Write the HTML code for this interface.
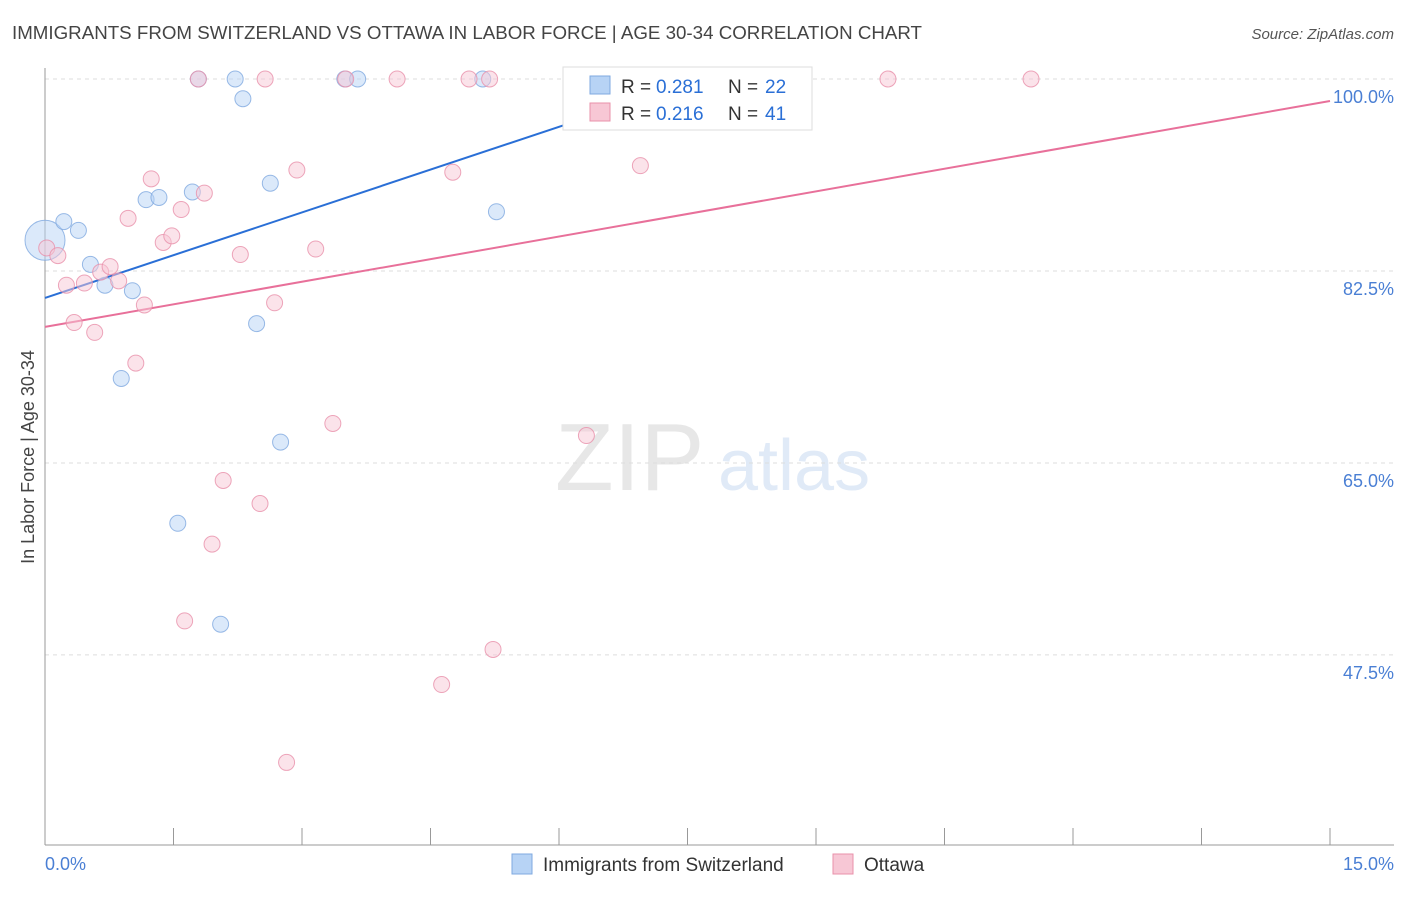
<!DOCTYPE html>
<html><head><meta charset="utf-8"><style>
body{margin:0;background:#fff;font-family:"Liberation Sans",sans-serif;}
svg text{font-family:"Liberation Sans",sans-serif;}
</style></head><body>
<svg id="chart" width="1406" height="892" xmlns="http://www.w3.org/2000/svg">
<text x="12" y="39" font-size="18" fill="#444" textLength="910" lengthAdjust="spacingAndGlyphs">IMMIGRANTS FROM SWITZERLAND VS OTTAWA IN LABOR FORCE | AGE 30-34 CORRELATION CHART</text>
<text x="1394" y="39" font-size="15" fill="#555" text-anchor="end" font-style="italic">Source: ZipAtlas.com</text>
<g opacity="0.35">
<text x="555" y="490" font-size="96" fill="#bbb" font-family="Liberation Serif">ZIP</text>
<text x="718" y="490" font-size="72" fill="#a8c4ea">atlas</text>
</g>
<g id="grid"></g>
<g id="axes"></g>
<g id="lines"></g>
<g id="points"></g>
<text transform="translate(34,457) rotate(-90)" font-size="18" fill="#444" text-anchor="middle">In Labor Force | Age 30-34</text>
<text x="45" y="870" font-size="18" fill="#4a7fd4">0.0%</text>
<text x="1394" y="870" font-size="18" fill="#4a7fd4" text-anchor="end">15.0%</text>
<g>
<rect x="563" y="67" width="249" height="63" fill="#fff" stroke="#ddd"/>
<rect x="590" y="76" width="20" height="18" fill="#b7d3f5" stroke="#7fa9e0"/>
<rect x="590" y="103" width="20" height="18" fill="#f7c7d5" stroke="#e890aa"/>
<text x="621" y="93" font-size="19" fill="#333">R =</text>
<text x="656" y="93" font-size="19" fill="#2a6fd6">0.281</text>
<text x="728" y="93" font-size="19" fill="#333">N =</text>
<text x="765" y="93" font-size="19" fill="#2a6fd6">22</text>
<text x="621" y="120" font-size="19" fill="#333">R =</text>
<text x="656" y="120" font-size="19" fill="#2a6fd6">0.216</text>
<text x="728" y="120" font-size="19" fill="#333">N =</text>
<text x="765" y="120" font-size="19" fill="#2a6fd6">41</text>
</g>
<g>
<rect x="512" y="854" width="20" height="20" fill="#b7d3f5" stroke="#7fa9e0"/>
<text x="543" y="871" font-size="19" fill="#333">Immigrants from Switzerland</text>
<rect x="833" y="854" width="20" height="20" fill="#f7c7d5" stroke="#e890aa"/>
<text x="864" y="871" font-size="19" fill="#333">Ottawa</text>
</g>
</svg>
<script>
const yTicks=[100,82.5,65,47.5];
const yTickLabels=["100.0%","82.5%","65.0%","47.5%"];
const blueX=[0,0.22,0.39,0.53,0.70,1.02,0.89,1.18,1.33,1.72,1.79,1.55,2.05,2.22,2.31,2.47,2.63,2.75,3.50,3.65,5.11,5.27];
const blueY=[85.3,87.0,86.2,83.1,81.2,80.7,72.7,89.0,89.2,89.7,100,59.5,50.3,100,98.2,77.7,90.5,66.9,100,100,100,87.9];
const pinkX=[0.02,0.15,0.25,0.34,0.46,0.58,0.65,0.76,0.86,0.97,1.06,1.16,1.24,1.38,1.48,1.59,1.63,1.79,1.86,1.95,2.08,2.28,2.51,2.57,2.68,2.82,2.94,3.16,3.36,3.51,4.11,4.63,4.76,4.95,5.19,5.23,6.32,6.95,7.14,9.84,11.51];
const pinkY=[84.6,83.9,81.2,77.8,81.4,76.9,82.4,82.9,81.6,87.3,74.1,79.4,90.9,85.1,85.7,88.1,50.6,100,89.6,57.6,63.4,84.0,61.3,100,79.6,37.7,91.7,84.5,68.6,100,100,44.8,91.5,100,100,48.0,67.5,92.1,100,100,100];
const blueTrend=[80.04,2.6];
const pinkTrend=[77.4,1.373];
const NS="http://www.w3.org/2000/svg";
const X=v=>45+v/15*1285;
const Y=v=>79+(100-v)*10.97;
function mk(tag,attrs,parent){const e=document.createElementNS(NS,tag);for(const k in attrs)e.setAttribute(k,attrs[k]);document.getElementById(parent).appendChild(e);return e;}
yTicks.forEach((t,i)=>{
 const l=mk('line',{x1:45,x2:1394,y1:Y(t),y2:Y(t),stroke:'#ddd','stroke-dasharray':'4,4'},'grid');
 
 
 const tx=mk('text',{x:1394,y:Y(t)+24,'font-size':18,fill:'#4a7fd4','text-anchor':'end'},'grid');
 tx.textContent=yTickLabels[i];
 
 
});
const ax=mk('line',{x1:45,x2:45,y1:68,y2:845,stroke:'#999'},'axes');


const bx=mk('line',{x1:45,x2:1394,y1:845,y2:845,stroke:'#999'},'axes');


for(let i=0;i<=10;i++){const t=mk('line',{x1:X(i*1.5),x2:X(i*1.5),y1:828,y2:845,stroke:'#999'},'axes');
 
 }
function trend(c,col,xe,name){
 const l=mk('line',{x1:X(0),y1:Y(c[0]),x2:X(xe),y2:Y(c[0]+c[1]*xe),stroke:col,'stroke-width':2},'lines');
 
 
}
trend(blueTrend,'#2a6fd6',(98-blueTrend[0])/blueTrend[1],'trend-switzerland');
trend(pinkTrend,'#e8709a',15,'trend-ottawa');
function pts(xs,ys,fill,stroke,name){xs.forEach((x,i)=>{
 const r=(i===0&&name==='point-switzerland')?20:8;
 const c=mk('circle',{cx:X(x),cy:Y(ys[i]),r:r,fill:fill,stroke:stroke,'fill-opacity':0.5,'stroke-opacity':0.8},'points');
 
 });}
pts(blueX,blueY,'#b7d3f5','#7fa9e0','point-switzerland');
pts(pinkX,pinkY,'#f7c7d5','#e890aa','point-ottawa');
</script>
</body></html>
